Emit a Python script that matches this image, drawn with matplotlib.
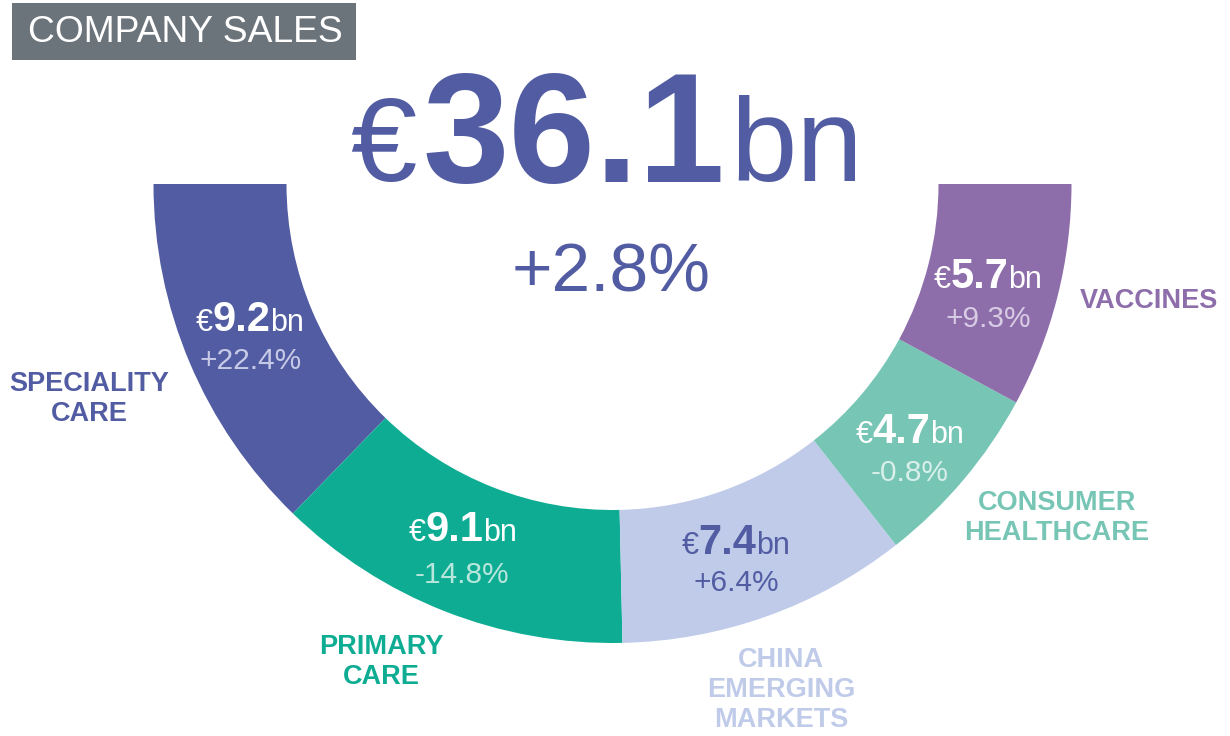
import matplotlib
matplotlib.use("Agg")
import matplotlib.pyplot as plt
from matplotlib.offsetbox import TextArea, HPacker, AnnotationBbox
from matplotlib.patches import Rectangle

plt.rcParams['font.family'] = ['Liberation Sans', 'DejaVu Sans']

# ---- data ----
segments = ["SPECIALITY\nCARE", "PRIMARY\nCARE", "CHINA\nEMERGING\nMARKETS",
            "CONSUMER\nHEALTHCARE", "VACCINES"]
sales_bn = [9.2, 9.1, 7.4, 4.7, 5.7]
growth = ["+22.4%", "-14.8%", "+6.4%", "-0.8%", "+9.3%"]
total_bn = 36.1
total_growth = "+2.8%"
title = "COMPANY SALES"

colors = ["#525CA3", "#0EAD93", "#BFCBE9", "#76C5B5", "#8E6DAB"]
value_colors = ["white", "white", "#525CA3", "white", "white"]
growth_colors = ["#C6CAE6", "#B8E6DC", "#525CA3", "#D9EFEA", "#D8CCE4"]

# layout (pixel coords, y measured downward -> negated)
value_pos = [(250, 320), (463, 530), (736, 543), (910, 432), (988, 277)]
growth_pos = [(251, 361), (462, 575), (736, 583), (910, 473), (988, 319)]
label_pos = [(89, 399), (381, 662), (781, 690), (1057, 518), (1149, 301)]

fig = plt.figure(figsize=(12.3, 7.36), dpi=100)
ax = fig.add_axes([0, 0, 1, 1])

cx, cy = 612.5, -184
ax.pie(sales_bn + [total_bn], colors=colors + ["none"], startangle=180,
       counterclock=True, radius=459, center=(cx, cy),
       wedgeprops=dict(width=133, linewidth=0, antialiased=True))
ax.set_xlim(0, 1230)
ax.set_ylim(-736, 0)
ax.set_aspect("equal")
ax.axis("off")


def mixed(x, y, parts, fontsize_small, fontsize_big, color, sep=0):
    boxes = []
    for txt, big in parts:
        boxes.append(TextArea(txt, textprops=dict(
            color=color, fontsize=fontsize_big if big else fontsize_small,
            fontweight="bold" if big else "normal")))
    pack = HPacker(children=boxes, align="baseline", pad=0, sep=sep)
    ab = AnnotationBbox(pack, (x, -y), frameon=False, box_alignment=(0.5, 0.5),
                        pad=0)
    ax.add_artist(ab)


# header box
ax.add_patch(Rectangle((12, -60), 344, 57, facecolor="#6B737B", edgecolor="none"))
ax.text(185, -32, title, color="white", fontsize=26.8, ha="center", va="center")

# total
mixed(607, 141, [("€", False), (f"{total_bn}", True), ("bn", False)], 86, 112,
      "#525CA3", sep=4)
ax.text(611, -273, total_growth, color="#525CA3", fontsize=50, ha="center", va="center")

for i in range(len(segments)):
    vx, vy = value_pos[i]
    mixed(vx, vy, [("€", False), (f"{sales_bn[i]}", True), ("bn", False)], 22, 30,
          value_colors[i])
    gx, gy = growth_pos[i]
    ax.text(gx, -gy, growth[i], color=growth_colors[i], fontsize=21.5,
            ha="center", va="center")
    lx, ly = label_pos[i]
    ax.text(lx, -ly, segments[i], color=colors[i], fontsize=19.5, fontweight="bold",
            ha="center", va="center", linespacing=1.22)

fig.savefig("out.png", dpi=100)
